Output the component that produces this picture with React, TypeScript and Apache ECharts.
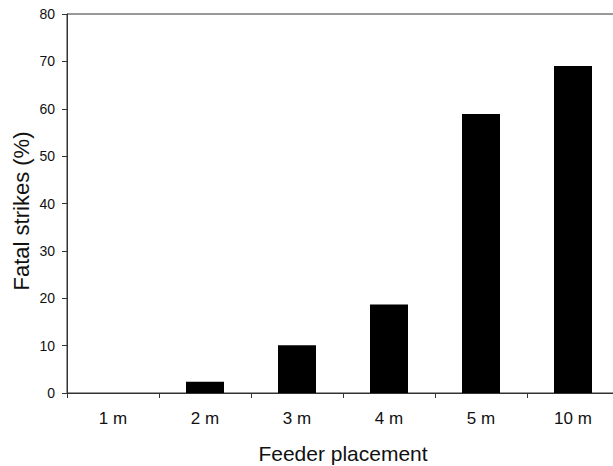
import React, { useEffect, useRef } from "react";
import * as echarts from "echarts";

const categories = ["1 m", "2 m", "3 m", "4 m", "5 m", "10 m"];
const fatalStrikes = [0, 2.4, 10.1, 18.7, 58.9, 69.0];
const yMin = 0;
const yMax = 80;
const yInterval = 10;

export default function App() {
  const ref = useRef<HTMLDivElement>(null);
  useEffect(() => {
    document.body.style.margin = "0";
    if (!ref.current) return;
    const chart = echarts.init(ref.current, null, { renderer: "svg" });
    const font = "'Liberation Sans', Arial, sans-serif";
    chart.setOption({
      animation: false,
      backgroundColor: "#ffffff",
      grid: {
        left: 67,
        top: 14,
        width: 552,
        height: 379,
        outerBoundsMode: "none",
        containLabel: false,
        show: true,
        borderColor: "#333333",
        borderWidth: 1,
        backgroundColor: "transparent",
      },
      xAxis: {
        type: "category",
        data: categories,
        boundaryGap: true,
        name: "Feeder placement",
        nameLocation: "middle",
        nameGap: 50,
        nameTextStyle: { fontFamily: font, fontSize: 21, color: "#111111" },
        axisLine: { lineStyle: { color: "#333333", width: 1 } },
        axisTick: { show: true, length: 5, alignWithLabel: false, lineStyle: { color: "#333333" } },
        axisLabel: { fontFamily: font, fontSize: 17, color: "#111111", margin: 17 },
        splitLine: { show: false },
      },
      yAxis: {
        type: "value",
        min: yMin,
        max: yMax,
        interval: yInterval,
        axisLine: { show: true, lineStyle: { color: "#333333", width: 1 } },
        axisTick: { show: true, length: 5, lineStyle: { color: "#333333" } },
        axisLabel: { fontFamily: font, fontSize: 14, color: "#111111", margin: 12 },
        splitLine: { show: false },
      },
      graphic: [
        {
          type: "text",
          x: 21,
          y: 211,
          rotation: Math.PI / 2,
          style: {
            text: "Fatal strikes (%)",
            fontFamily: font,
            fontSize: 22,
            fill: "#111111",
            textAlign: "center",
            textVerticalAlign: "middle",
          },
        },
      ],
      series: [
        {
          type: "bar",
          data: fatalStrikes,
          barWidth: 38,
          itemStyle: { color: "#000000" },
        },
      ],
    });
    return () => chart.dispose();
  }, []);
  return (
    <div
      ref={ref}
      style={{ width: 613, height: 466, position: "absolute", left: 0, top: 0 }}
    />
  );
}
